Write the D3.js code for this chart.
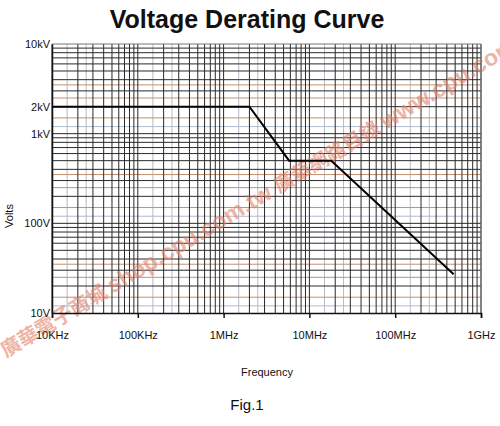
<!DOCTYPE html>
<html>
<head>
<meta charset="utf-8">
<script src="https://cdn.jsdelivr.net/npm/d3@7"></script>
<style>
  html, body { margin: 0; padding: 0; background: #fff; }
  svg { display: block; font-family: "Liberation Sans", Arial, sans-serif; }
</style>
</head>
<body>
<svg id="chart" width="500" height="426"></svg>
<script>
// ---- data ----
const freqTicks = [1e4, 1e5, 1e6, 1e7, 1e8, 1e9];
const freqLabels = ["10KHz", "100KHz", "1MHz", "10MHz", "100MHz", "1GHz"];
const voltTicks = [10, 100, 1000, 2000, 10000];
const voltLabels = ["10V", "100V", "1kV", "2kV", "10kV"];
const curveFreq = [1e4, 2e6, 5.8e6, 18e6, 480e6];
const curveVolts = [2000, 2000, 500, 500, 27];
const gridDarkSteps = [2, 3, 4, 5, 6, 7, 8, 9];
const gridLightXSteps = [1.5, 2.5];
const gridBrownYSteps = [1.5, 2.5, 3.5];
const gridBlueYSteps = [1.2];
const titleText = "Voltage Derating Curve";
const xTitle = "Frequency";
const yTitle = "Volts";
const caption = "Fig.1";
const watermark = [
  {t: "廣華電子商城 ", cjk: true},
  {t: "shop.cpu.com.tw ", cjk: false},
  {t: "廣華網路目錄 ", cjk: true},
  {t: "www.cpu.com.tw", cjk: false}
];

// ---- layout ----
const L = 52, R = 481, T = 44, B = 313;
const svg = d3.select("#chart");
const x = d3.scaleLog().domain([1e4, 1e9]).range([L, R]);
const y = d3.scaleLog().domain([10, 1e4]).range([B, T]);

function gridValues(domain, steps) {
  const out = [];
  for (let d = domain[0]; d < domain[1]; d *= 10) steps.forEach(k => out.push(d * k));
  return out;
}
const g = svg.append("g");

g.selectAll(".vl").data(gridValues(x.domain(), gridLightXSteps)).join("line")
  .attr("x1", d => x(d)).attr("x2", d => x(d)).attr("y1", T).attr("y2", B)
  .attr("stroke", "#b4bcc8").attr("stroke-width", 1);
g.selectAll(".hl").data(gridValues(y.domain(), gridBrownYSteps)).join("line")
  .attr("x1", L).attr("x2", R).attr("y1", d => y(d)).attr("y2", d => y(d))
  .attr("stroke", "#c4906f").attr("stroke-width", 1);
g.selectAll(".hl2").data(gridValues(y.domain(), gridBlueYSteps)).join("line")
  .attr("x1", L).attr("x2", R).attr("y1", d => y(d)).attr("y2", d => y(d))
  .attr("stroke", "#b0bccf").attr("stroke-width", 1);
g.selectAll(".vd").data(gridValues(x.domain(), gridDarkSteps).concat(freqTicks)).join("line")
  .attr("x1", d => x(d)).attr("x2", d => x(d)).attr("y1", T).attr("y2", B)
  .attr("stroke", "#2a2a2a").attr("stroke-width", 1);
g.selectAll(".hd").data(gridValues(y.domain(), gridDarkSteps).concat([100, 1000])).join("line")
  .attr("x1", L).attr("x2", R).attr("y1", d => y(d)).attr("y2", d => y(d))
  .attr("stroke", "#2a2a2a").attr("stroke-width", 1);

// watermark
const wm = svg.append("text").attr("transform", "translate(6,358) rotate(-31)")
  .attr("fill", "#e4826a").attr("fill-opacity", 0.62).attr("font-weight", "bold");
wm.selectAll("tspan").data(watermark).join("tspan")
  .attr("font-size", d => d.cjk ? 20 : 23)
  .attr("font-family", d => d.cjk ? "Noto Sans CJK TC" : "Liberation Sans, Arial, sans-serif")
  .text(d => d.t);

// frame
svg.append("line").attr("x1", L).attr("x2", R).attr("y1", T).attr("y2", T).attr("stroke", "#777").attr("stroke-width", 1.2);
svg.append("line").attr("x1", R).attr("x2", R).attr("y1", T).attr("y2", B).attr("stroke", "#777").attr("stroke-width", 1.2);

// axes
const xAxis = d3.axisBottom(x).tickValues(freqTicks).tickFormat((d, i) => freqLabels[i]).tickSize(5).tickPadding(13);
const xg = svg.append("g").attr("transform", `translate(0,${B})`).call(xAxis);
xg.select(".domain").attr("stroke", "#111").attr("stroke-width", 1.5);
xg.selectAll(".tick line").attr("stroke", "#111").attr("stroke-width", 1.5);
xg.selectAll(".tick text").attr("font-size", 11).attr("fill", "#111").attr("font-family", "Liberation Sans, Arial, sans-serif");

const yAxis = d3.axisLeft(y).tickValues(voltTicks).tickFormat((d, i) => voltLabels[i]).tickSize(0).tickPadding(2);
const yg = svg.append("g").attr("transform", `translate(${L},0)`).call(yAxis);
yg.select(".domain").attr("stroke", "#111").attr("stroke-width", 1.5);
yg.selectAll(".tick text").attr("font-size", 11).attr("fill", "#111").attr("font-family", "Liberation Sans, Arial, sans-serif");

// curve
const line = d3.line().x(d => x(d[0])).y(d => y(d[1]));
svg.append("path").datum(curveFreq.map((f, i) => [f, curveVolts[i]]))
  .attr("d", line).attr("fill", "none").attr("stroke", "#000").attr("stroke-width", 2);

// titles
svg.append("text").attr("x", 247).attr("y", 28).attr("text-anchor", "middle")
  .attr("font-size", 25).attr("font-weight", "bold").attr("fill", "#111").text(titleText);
svg.append("text").attr("x", 267).attr("y", 376).attr("text-anchor", "middle")
  .attr("font-size", 11).attr("fill", "#111").text(xTitle);
svg.append("text").attr("transform", "translate(13,216) rotate(-90)").attr("text-anchor", "middle")
  .attr("font-size", 11).attr("fill", "#111").text(yTitle);
svg.append("text").attr("x", 247).attr("y", 410).attr("text-anchor", "middle")
  .attr("font-size", 15).attr("fill", "#111").text(caption);
</script>
</body>
</html>
